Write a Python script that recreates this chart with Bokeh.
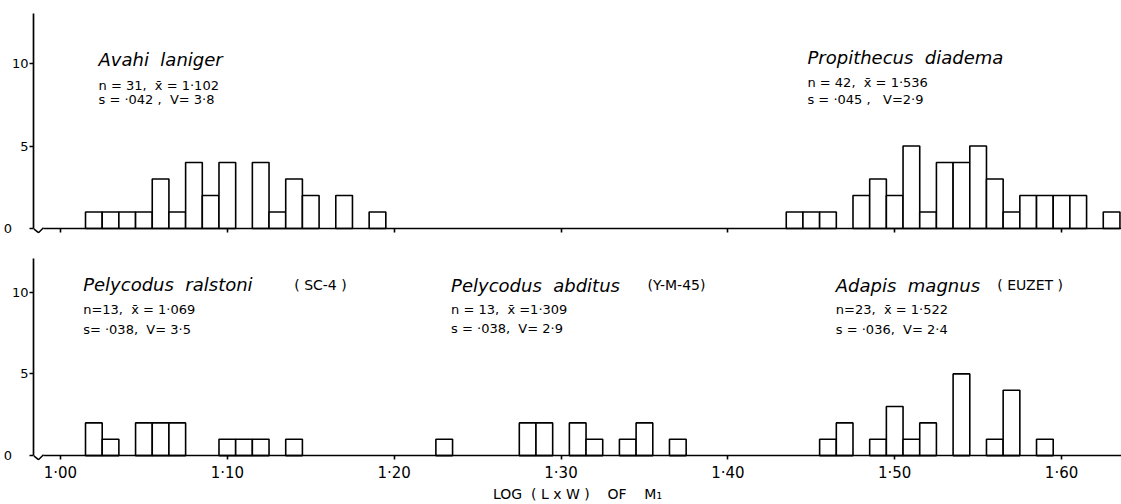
from bokeh.plotting import figure
from bokeh.layouts import column
from bokeh.models import Range1d, FixedTicker, Label, LinearAxis
from bokeh.embed import file_html
from bokeh.resources import INLINE

# ---------------- data ----------------
BIN_WIDTH = 0.01

avahi_bins = [1.02, 1.03, 1.04, 1.05, 1.06, 1.07, 1.08, 1.09, 1.10, 1.12, 1.13, 1.14, 1.15, 1.17, 1.19]
avahi_counts = [1, 1, 1, 1, 3, 1, 4, 2, 4, 4, 1, 3, 2, 2, 1]

propithecus_bins = [1.44, 1.45, 1.46, 1.48, 1.49, 1.50, 1.51, 1.52, 1.53, 1.54, 1.55, 1.56, 1.57,
                    1.58, 1.59, 1.60, 1.61, 1.63]
propithecus_counts = [1, 1, 1, 2, 3, 2, 5, 1, 4, 4, 5, 3, 1, 2, 2, 2, 2, 1]

ralstoni_bins = [1.02, 1.03, 1.05, 1.06, 1.07, 1.10, 1.11, 1.12, 1.14]
ralstoni_counts = [2, 1, 2, 2, 2, 1, 1, 1, 1]

abditus_bins = [1.23, 1.28, 1.29, 1.31, 1.32, 1.34, 1.35, 1.37]
abditus_counts = [1, 2, 2, 2, 1, 1, 2, 1]

adapis_bins = [1.46, 1.47, 1.49, 1.50, 1.51, 1.52, 1.54, 1.56, 1.57, 1.59]
adapis_counts = [1, 2, 1, 3, 1, 2, 5, 1, 4, 1]

x_ticks = [1.00, 1.10, 1.20, 1.30, 1.40, 1.50, 1.60]
x_tick_labels = ["1·00", "1·10", "1·20", "1·30", "1·40", "1·50", "1·60"]
y_ticks = [0, 5, 10]
y_tick_labels = ["0", "5", "10"]

NB = "\u00a0"
x_axis_title = "LOG" + NB * 2 + "(" + NB + "L" + NB + "x" + NB + "W" + NB + ")" + NB * 4 + "OF" + NB * 4 + "M\u2081"

top_names = ["Avahi" + NB * 2 + "laniger", "Propithecus" + NB * 2 + "diadema"]
top_stats1 = ["n = 31," + NB * 2 + "x\u0304 = 1·102", "n = 42," + NB * 2 + "x\u0304 = 1·536"]
top_stats2 = ["s = ·042 ," + NB * 2 + "V= 3·8", "s = ·045 ," + NB * 3 + "V=2·9"]

bottom_names = ["Pelycodus" + NB * 2 + "ralstoni", "Pelycodus" + NB * 2 + "abditus", "Adapis" + NB * 2 + "magnus"]
bottom_sources = ["(" + NB + "SC-4" + NB + ")", "(Y-M-45)", "(" + NB + "EUZET" + NB + ")"]
bottom_stats1 = ["n=13," + NB * 2 + "x\u0304 = 1·069", "n = 13," + NB * 2 + "x\u0304 =1·309", "n=23," + NB * 2 + "x\u0304 = 1·522"]
bottom_stats2 = ["s= ·038," + NB * 2 + "V= 3·5", "s = ·038," + NB * 2 + "V= 2·9", "s = ·036," + NB * 2 + "V= 2·4"]

# ---------------- layout / style ----------------
X_START, X_END = 0.98383, 1.63593
X_AXIS_START = 0.9898
Y_BELOW = -0.3
FONT = "DejaVu Sans"
INK = "black"


def make_panel(height, y_top, border_top, border_bottom):
    p = figure(width=1121, height=height,
               x_range=Range1d(X_START, X_END), y_range=Range1d(Y_BELOW, y_top),
               output_backend="svg", toolbar_location=None,
               min_border_left=32, min_border_right=0,
               min_border_top=border_top, min_border_bottom=border_bottom)
    p.xgrid.visible = False
    p.ygrid.visible = False
    p.outline_line_color = None
    p.background_fill_color = "white"
    p.border_fill_color = "white"

    # baseline axis: line and ticks only, drawn at count = 0
    xa = p.xaxis[0]
    xa.ticker = FixedTicker(ticks=x_ticks)
    xa.major_label_overrides = {t: "" for t in x_ticks}
    xa.major_label_text_font_size = "0px"
    xa.major_label_standoff = 0
    xa.fixed_location = 0
    xa.bounds = (X_AXIS_START, X_END)
    xa.axis_line_color = INK
    xa.axis_line_width = 1.7
    xa.major_tick_line_color = INK
    xa.major_tick_line_width = 1.6
    xa.major_tick_in = 0
    xa.major_tick_out = 4
    xa.minor_tick_line_color = None

    ya = p.yaxis[0]
    ya.ticker = FixedTicker(ticks=y_ticks)
    overrides = {t: l for t, l in zip(y_ticks, y_tick_labels)}
    overrides[0] = y_tick_labels[0] + NB * 4
    ya.major_label_overrides = overrides
    ya.bounds = (0, y_top)
    ya.axis_line_color = INK
    ya.axis_line_width = 1.7
    ya.major_tick_line_color = INK
    ya.major_tick_line_width = 1.4
    ya.major_tick_in = 0
    ya.major_tick_out = 4
    ya.minor_tick_line_color = None
    ya.major_label_text_font = FONT
    ya.major_label_text_font_size = "13px"
    ya.major_label_text_color = INK
    ya.major_label_standoff = 1

    # axis break mark at the origin
    mid = (X_START + X_AXIS_START) / 2
    p.line(x=[X_START, mid, X_AXIS_START], y=[0, -0.25, 0.05], line_color=INK, line_width=1.5)
    return p


def bars(p, bins, counts):
    p.vbar(x=bins, top=counts, bottom=0, width=BIN_WIDTH,
           fill_color="white", line_color=INK, line_width=1.6)


TEXT_SHIFT = 0.27


def label(p, x, y, text, size, style="normal"):
    p.add_layout(Label(x=x, y=y + TEXT_SHIFT, text=text, text_font=FONT, text_font_size=size,
                       text_font_style=style, text_color=INK, text_baseline="alphabetic"))


# ---------------- top panel ----------------
p1 = make_panel(245, 13.03, 13, 12)
bars(p1, avahi_bins, avahi_counts)
bars(p1, propithecus_bins, propithecus_counts)

top_name_x = [1.0228, 1.4477]
top_name_y = [9.98, 10.08]
top_s1_y = [8.42, 8.6]
top_s2_y = [7.55, 7.52]
for i in range(2):
    label(p1, top_name_x[i], top_name_y[i], top_names[i], "18px", "italic")
    label(p1, top_name_x[i], top_s1_y[i], top_stats1[i], "13px")
    label(p1, top_name_x[i], top_s2_y[i], top_stats2[i], "13px")

# ---------------- bottom panel ----------------
p2 = make_panel(259, 12.06, 13, 42)
bars(p2, ralstoni_bins, ralstoni_counts)
bars(p2, abditus_bins, abditus_counts)
bars(p2, adapis_bins, adapis_counts)

label_axis = LinearAxis(ticker=FixedTicker(ticks=x_ticks),
                        major_label_overrides={t: l for t, l in zip(x_ticks, x_tick_labels)},
                        axis_line_color=None, major_tick_line_color=None, minor_tick_line_color=None,
                        major_tick_in=0, major_tick_out=0, major_label_standoff=3,
                        major_label_text_font=FONT, major_label_text_font_size="15px",
                        major_label_text_color=INK,
                        axis_label=x_axis_title, axis_label_text_font=FONT,
                        axis_label_text_font_size="14px", axis_label_text_font_style="normal",
                        axis_label_text_color=INK, axis_label_standoff=1)
p2.add_layout(label_axis, "below")

bottom_name_x = [1.0136, 1.2341, 1.4647]
bottom_source_x = [1.1401, 1.3519, 1.5615]
bottom_name_y = [10.18, 10.14, 10.14]
bottom_s1_y = [8.7, 8.7, 8.7]
bottom_s2_y = [7.45, 7.52, 7.45]
for i in range(3):
    label(p2, bottom_name_x[i], bottom_name_y[i], bottom_names[i], "18px", "italic")
    label(p2, bottom_source_x[i], bottom_name_y[i], bottom_sources[i], "14px")
    label(p2, bottom_name_x[i], bottom_s1_y[i], bottom_stats1[i], "13px")
    label(p2, bottom_name_x[i], bottom_s2_y[i], bottom_stats2[i], "13px")

layout = column(p1, p2)
open("out.html", "w").write(file_html(layout, INLINE))
